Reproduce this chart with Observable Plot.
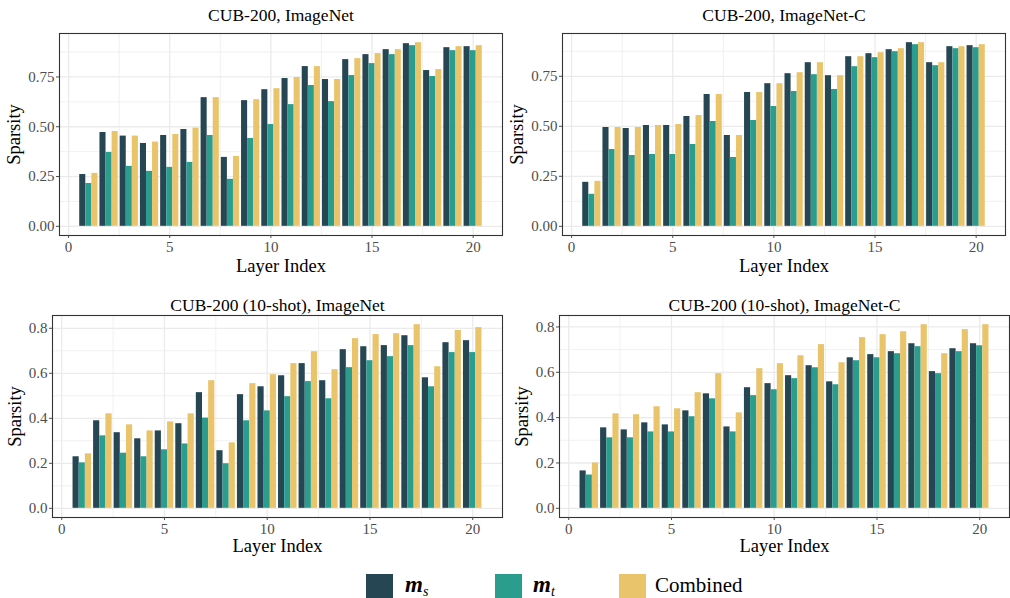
<!DOCTYPE html>
<html>
<head>
<meta charset="utf-8">
<script src="https://cdn.jsdelivr.net/npm/d3@7"></script>
<script src="https://cdn.jsdelivr.net/npm/@observablehq/plot@0.6"></script>
<style>
  html, body { margin: 0; padding: 0; background: #fff; }
  #root { position: relative; width: 1010px; height: 598px; overflow: hidden; font-family: "Liberation Serif", "Times New Roman", serif; }
  .panel { position: absolute; }
  .panel svg text { font-family: "Liberation Serif", "Times New Roman", serif; }
  .legend { position: absolute; top: 574px; left: 0; width: 1010px; height: 24px; }
  .key { position: absolute; top: 0; width: 27px; height: 24px; }
  .lab { position: absolute; top: -1px; font-size: 21px; line-height: 24px; color: #000; white-space: nowrap; }
  .lab b { font-style: italic; font-weight: bold; font-size: 23px; }
  .lab sub { font-style: italic; font-size: 14px; vertical-align: -4px; }
</style>
</head>
<body>
<div id="root">
  <div class="legend" id="legend"></div>
</div>
<script>
// ---------------- data ----------------
const layers = [1,2,3,4,5,6,7,8,9,10,11,12,13,14,15,16,17,18,19,20];
const seriesNames = ["m_s", "m_t", "Combined"];
const seriesColors = ["#264653", "#2a9d8f", "#e9c46a"];

const titles = ["CUB-200, ImageNet", "CUB-200, ImageNet-C", "CUB-200 (10-shot), ImageNet", "CUB-200 (10-shot), ImageNet-C"];

// CUB-200, ImageNet
const tl_ms   = [0.260,0.471,0.453,0.416,0.456,0.486,0.646,0.346,0.631,0.686,0.742,0.802,0.737,0.837,0.862,0.887,0.917,0.782,0.897,0.902];
const tl_mt   = [0.215,0.371,0.301,0.276,0.296,0.321,0.456,0.236,0.441,0.511,0.611,0.707,0.626,0.757,0.817,0.862,0.907,0.752,0.882,0.882];
const tl_comb = [0.266,0.476,0.453,0.423,0.461,0.493,0.646,0.351,0.636,0.691,0.747,0.802,0.737,0.842,0.867,0.887,0.922,0.787,0.902,0.907];
// CUB-200, ImageNet-C
const tr_ms   = [0.220,0.494,0.489,0.504,0.504,0.549,0.659,0.454,0.669,0.713,0.763,0.818,0.753,0.848,0.863,0.883,0.918,0.818,0.898,0.903];
const tr_mt   = [0.160,0.384,0.354,0.359,0.359,0.409,0.524,0.344,0.529,0.599,0.674,0.758,0.684,0.798,0.843,0.873,0.908,0.803,0.888,0.893];
const tr_comb = [0.225,0.494,0.494,0.504,0.509,0.554,0.659,0.454,0.669,0.713,0.768,0.818,0.753,0.848,0.868,0.888,0.918,0.818,0.898,0.908];
// CUB-200 (10-shot), ImageNet
const bl_ms   = [0.229,0.389,0.336,0.309,0.344,0.376,0.514,0.256,0.505,0.540,0.589,0.643,0.567,0.705,0.718,0.723,0.767,0.580,0.736,0.745];
const bl_mt   = [0.202,0.322,0.245,0.229,0.260,0.286,0.401,0.198,0.389,0.433,0.496,0.563,0.487,0.625,0.656,0.674,0.723,0.540,0.692,0.692];
const bl_comb = [0.242,0.420,0.371,0.344,0.384,0.420,0.567,0.291,0.554,0.594,0.643,0.696,0.616,0.754,0.772,0.776,0.816,0.629,0.790,0.803];
// CUB-200 (10-shot), ImageNet-C
const br_ms   = [0.165,0.355,0.346,0.377,0.368,0.430,0.505,0.359,0.532,0.550,0.585,0.629,0.558,0.664,0.678,0.691,0.726,0.603,0.704,0.726];
const br_mt   = [0.147,0.311,0.311,0.337,0.337,0.404,0.483,0.337,0.497,0.523,0.572,0.620,0.545,0.651,0.664,0.682,0.713,0.594,0.691,0.717];
const br_comb = [0.200,0.417,0.413,0.448,0.439,0.510,0.594,0.421,0.616,0.638,0.673,0.722,0.642,0.753,0.766,0.779,0.810,0.682,0.788,0.810];

// tick values
const xMajor = [0, 5, 10, 15, 20];
const xMinor = [2.5, 7.5, 12.5, 17.5];
const yMajorTop = [0, 0.25, 0.5, 0.75];
const yMinorTop = [0.125, 0.375, 0.625, 0.875];
const yMajorBot = [0, 0.2, 0.4, 0.6, 0.8];
const yMinorBot = [0.1, 0.3, 0.5, 0.7];

// ---------------- drawing ----------------
const FONT = "'Liberation Serif', 'Times New Roman', serif";

function makeRows(arrays) {
  return layers.flatMap((l, i) => arrays.map((a, k) => ({layer: l, k, series: seriesNames[k], value: a[i]})));
}

function panel(cfg) {
  const rows = makeRows(cfg.arrays);
  const max = d3.max(rows, d => d.value);
  const fmt = d3.format(cfg.fmt);
  const plot = Plot.plot({
    width: cfg.width, height: cfg.height,
    marginLeft: cfg.ml, marginRight: cfg.mr, marginTop: cfg.mt, marginBottom: cfg.mb,
    x: {domain: [-0.45, 21.45], axis: null},
    y: {domain: [-0.05 * max, 1.05 * max], axis: null},
    color: {domain: seriesNames, range: seriesColors},
    style: {fontFamily: FONT, background: "transparent", overflow: "visible"},
    marks: [
      Plot.gridX(xMinor, {stroke: "#ebebeb", strokeOpacity: 1, strokeWidth: 0.7}),
      Plot.gridY(cfg.yMinor, {stroke: "#ebebeb", strokeOpacity: 1, strokeWidth: 0.7}),
      Plot.gridX(xMajor, {stroke: "#ebebeb", strokeOpacity: 1, strokeWidth: 1.3}),
      Plot.gridY(cfg.yMajor, {stroke: "#ebebeb", strokeOpacity: 1, strokeWidth: 1.3}),
      Plot.rectY(rows, {
        x1: d => d.layer - 0.45 + d.k * 0.3,
        x2: d => d.layer - 0.15 + d.k * 0.3,
        y: "value",
        fill: "series"
      }),
      Plot.frame({stroke: "#333", strokeWidth: 1.1}),
      Plot.axisX(xMajor, {tickSize: 3, tickPadding: 3, fontSize: 15, fontFamily: FONT, color: "#4d4d4d", label: null}),
      Plot.axisY(cfg.yMajor, {tickSize: 3, tickPadding: 2, fontSize: 15, fontFamily: FONT, color: "#4d4d4d", label: null, tickFormat: fmt}),
      Plot.text([cfg.title], {frameAnchor: "top", lineAnchor: "middle", textAnchor: "middle", dy: cfg.titleDy, fontSize: 17.5, fontFamily: FONT, fill: "#000"}),
      Plot.text(["Layer Index"], {frameAnchor: "bottom", lineAnchor: "middle", textAnchor: "middle", dy: cfg.xlabDy, fontSize: 18.5, fontFamily: FONT, fill: "#000"}),
      Plot.text(["Sparsity"], {frameAnchor: "left", lineAnchor: "middle", textAnchor: "middle", rotate: -90, dx: cfg.ylabDx, fontSize: 18.5, fontFamily: FONT, fill: "#000"})
    ]
  });
  const wrap = document.createElement("div");
  wrap.className = "panel";
  wrap.style.left = cfg.left + "px";
  wrap.style.top = cfg.top + "px";
  wrap.appendChild(plot);
  document.getElementById("root").appendChild(wrap);
}

panel({arrays: [tl_ms, tl_mt, tl_comb], title: titles[0], fmt: ".2f", yMajor: yMajorTop, yMinor: yMinorTop,
  left: 0, top: 0, width: 505, height: 280, ml: 59, mr: 3, mt: 33, mb: 45, titleDy: -18, xlabDy: 31, ylabDx: -45});
panel({arrays: [tr_ms, tr_mt, tr_comb], title: titles[1], fmt: ".2f", yMajor: yMajorTop, yMinor: yMinorTop,
  left: 505, top: 0, width: 505, height: 280, ml: 57, mr: 5, mt: 33, mb: 45, titleDy: -18, xlabDy: 31, ylabDx: -45});
panel({arrays: [bl_ms, bl_mt, bl_comb], title: titles[2], fmt: ".1f", yMajor: yMajorBot, yMinor: yMinorBot,
  left: 0, top: 285, width: 505, height: 275, ml: 52, mr: 3, mt: 30, mb: 43, titleDy: -10, xlabDy: 29, ylabDx: -37});
panel({arrays: [br_ms, br_mt, br_comb], title: titles[3], fmt: ".1f", yMajor: yMajorBot, yMinor: yMinorBot,
  left: 505, top: 285, width: 505, height: 275, ml: 54, mr: 1, mt: 30, mb: 43, titleDy: -10, xlabDy: 29, ylabDx: -37});

// legend
const legend = document.getElementById("legend");
const keyX = [366, 495, 619];
const labX = [405, 533, 655];
const labHtml = ["<b>m</b><sub>s</sub>", "<b>m</b><sub>t</sub>", "Combined"];
seriesNames.forEach((s, i) => {
  const k = document.createElement("div");
  k.className = "key";
  k.style.left = keyX[i] + "px";
  k.style.background = seriesColors[i];
  legend.appendChild(k);
  const t = document.createElement("div");
  t.className = "lab";
  t.style.left = labX[i] + "px";
  t.innerHTML = labHtml[i];
  legend.appendChild(t);
});
</script>
</body>
</html>
